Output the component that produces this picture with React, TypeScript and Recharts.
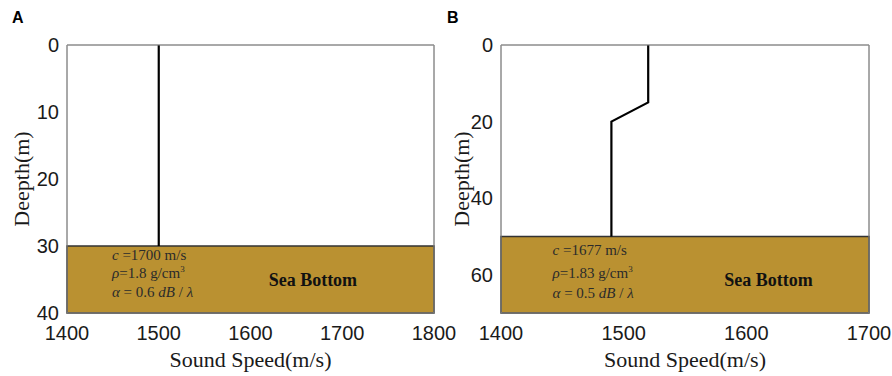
import { LineChart, Line, XAxis, YAxis, ReferenceArea, ReferenceDot } from 'recharts';

// Panel A profile
const depthA = [0, 30];
const speedA = [1500, 1500];
const ticksXA = [1400, 1500, 1600, 1700, 1800];
const ticksYA = [0, 10, 20, 30, 40];

// Panel B profile
const depthB = [0, 15, 20, 50];
const speedB = [1520, 1520, 1490, 1490];
const ticksXB = [1400, 1500, 1600, 1700];
const ticksYB = [0, 20, 40, 60];

const BOTTOM = '#BA9131';
const FRAME = '#8c8c8c';
const SERIF = '"Liberation Serif", "Times New Roman", serif';
const SANS = '"Liberation Sans", Arial, sans-serif';

const tickStyle = { fontSize: 20, fill: '#1a1a1a', fontFamily: SANS };

const XTitle = ({ viewBox }: any) => (
  <text x={viewBox.x + viewBox.width / 2} y={viewBox.y + 54} textAnchor="middle"
    fontFamily={SERIF} fontSize={22} fill="#1a1a1a">Sound Speed(m/s)</text>
);

const YTitle = ({ viewBox }: any) => {
  const cx = viewBox.x + 21;
  const cy = viewBox.y + viewBox.height / 2;
  return (
    <text x={cx} y={cy} transform={`rotate(-90, ${cx}, ${cy})`} textAnchor="middle"
      dominantBaseline="central" fontFamily={SERIF} fontSize={22} fill="#1a1a1a">Deepth(m)</text>
  );
};

const noteLabel = (kind: string, value: string) => ({ viewBox }: any) => {
  const x = viewBox.x;
  const y = viewBox.y;
  const base = { x, y, fontFamily: SERIF, fontSize: 15, fill: '#2b2b2b' };
  if (kind === 'c')
    return <text {...base}><tspan fontStyle="italic">c</tspan> ={value} m/s</text>;
  if (kind === 'rho')
    return <text {...base}><tspan fontStyle="italic">ρ</tspan>={value} g/cm<tspan dy={-6} fontSize={9}>3</tspan></text>;
  if (kind === 'alpha')
    return <text {...base}><tspan fontStyle="italic">α</tspan> = {value} <tspan fontStyle="italic">dB</tspan> / <tspan fontStyle="italic">λ</tspan></text>;
  return (
    <text x={x} y={y} textAnchor="middle" fontFamily={SERIF} fontSize={18} fontWeight="bold" fill="#111">Sea Bottom</text>
  );
};

interface PanelProps {
  speeds: number[];
  depths: number[];
  xTicks: number[];
  yTicks: number[];
  xDomain: [number, number];
  yDomain: [number, number];
  seabed: number;
  notes: { kind: string; value: string; x: number; y: number }[];
  width: number;
  yWidth: number;
  right: number;
}

function Panel({ speeds, depths, xTicks, yTicks, xDomain, yDomain, seabed, notes, width, yWidth, right }: PanelProps) {
  const data = speeds.map((s, i) => ({ speed: s, depth: depths[i] }));
  return (
    <LineChart width={width} height={376} data={data} margin={{ top: 45, right: right - 1, bottom: 0, left: 0 }}>
      <XAxis type="number" dataKey="speed" domain={xDomain} ticks={xTicks} allowDataOverflow
        height={63} tick={tickStyle} tickMargin={7} tickLine={false} axisLine={{ stroke: FRAME }} label={<XTitle />} />
      <XAxis xAxisId="top" orientation="top" type="number" dataKey="speed" domain={xDomain} ticks={xTicks}
        allowDataOverflow height={1} mirror tick={false} tickSize={4} tickLine={{ stroke: FRAME }} axisLine={{ stroke: FRAME }} />
      <YAxis type="number" dataKey="depth" domain={yDomain} ticks={yTicks} reversed allowDataOverflow
        width={yWidth} tick={tickStyle} tickLine={false} axisLine={{ stroke: FRAME }} label={<YTitle />} />
      <YAxis yAxisId="right" orientation="right" type="number" dataKey="depth" domain={yDomain} ticks={yTicks}
        reversed allowDataOverflow width={1} mirror tick={false} tickSize={4} tickLine={{ stroke: FRAME }} axisLine={{ stroke: FRAME }} />
      <ReferenceArea x1={xDomain[0]} x2={xDomain[1]} y1={yDomain[0]} y2={yDomain[1]}
        fill="none" stroke={FRAME} strokeWidth={1} />
      <ReferenceArea x1={xDomain[0]} x2={xDomain[1]} y1={seabed} y2={yDomain[1]}
        fill={BOTTOM} fillOpacity={1} stroke="#333" strokeWidth={1.5} />
      <Line type="linear" dataKey="depth" stroke="#000" strokeWidth={2.2} dot={false} isAnimationActive={false} />
      {notes.map((n) => (
        <ReferenceDot key={n.kind} x={n.x} y={n.y} r={0} fill="none" stroke="none" label={noteLabel(n.kind, n.value)} />
      ))}
    </LineChart>
  );
}

export default function App() {
  return (
    <div style={{ position: 'absolute', left: 0, top: 0, width: 892, height: 376, background: '#fff' }}>
      <div style={{ position: 'absolute', left: 0, top: 0 }}>
        <Panel speeds={speedA} depths={depthA} xTicks={ticksXA} yTicks={ticksYA} xDomain={[1400, 1800]}
          yDomain={[0, 40]} seabed={30} width={460} yWidth={67} right={27}
          notes={[
            { kind: 'c', value: '1700', x: 1449, y: 32.1 },
            { kind: 'rho', value: '1.8', x: 1449, y: 34.8 },
            { kind: 'alpha', value: '0.6', x: 1449, y: 37.6 },
            { kind: 'sea', value: '', x: 1668, y: 36 },
          ]} />
      </div>
      <div style={{ position: 'absolute', left: 440, top: 0 }}>
        <Panel speeds={speedB} depths={depthB} xTicks={ticksXB} yTicks={ticksYB} xDomain={[1400, 1700]}
          yDomain={[0, 70]} seabed={50} width={452} yWidth={61} right={24}
          notes={[
            { kind: 'c', value: '1677', x: 1442, y: 54.8 },
            { kind: 'rho', value: '1.83', x: 1442, y: 60.8 },
            { kind: 'alpha', value: '0.5', x: 1442, y: 66.1 },
            { kind: 'sea', value: '', x: 1618, y: 62.9 },
          ]} />
      </div>
      <div style={{ position: 'absolute', left: 12, top: 9, fontFamily: SANS, fontWeight: 'bold', fontSize: 16 }}>A</div>
      <div style={{ position: 'absolute', left: 447, top: 9, fontFamily: SANS, fontWeight: 'bold', fontSize: 16 }}>B</div>
    </div>
  );
}
